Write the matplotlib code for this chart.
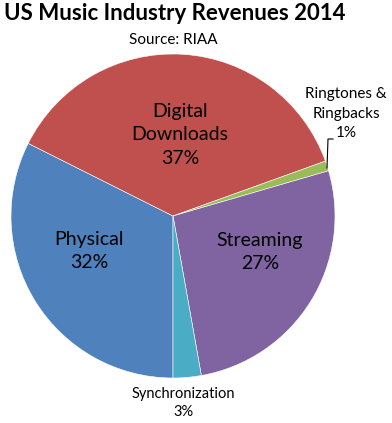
import matplotlib
matplotlib.use('Agg')
import matplotlib.pyplot as plt

# data (share of revenue, %)
categories = ['Physical', 'Digital\nDownloads', 'Ringtones &\nRingbacks', 'Streaming', 'Synchronization']
shares = [32.4, 37.1, 1.0, 26.7, 2.8]
colors = ['#4F81BD', '#C0504D', '#9BBB59', '#8064A2', '#4BACC6']

plt.rcParams['font.family'] = ['Lato', 'DejaVu Sans']

W, H = 392, 423
cx, cy, R = 173, 216, 162  # pie centre / radius in pixels


def px(x, y):
    # pixel position -> data coords (pie radius = 1)
    return (x - cx) / R, (cy - y) / R


fig = plt.figure(figsize=(W / 100, H / 100), dpi=100)
ax = fig.add_axes([0, 0, 1, 1])
ax.pie(shares, colors=colors, startangle=270, counterclock=False,
       wedgeprops=dict(edgecolor='white', linewidth=0.4))
ax.set_xlim(-cx / R, (W - cx) / R)
ax.set_ylim(-(H - cy) / R, cy / R)
ax.set_aspect('auto')
ax.axis('off')

labels = [f'{c}\n{s:.0f}%' for c, s in zip(categories, shares)]

# inside labels
ax.text(*px(89, 251), labels[0], ha='center', va='center', fontsize=14, linespacing=1.45)
ax.text(*px(180, 135), labels[1], ha='center', va='center', fontsize=14, linespacing=1.45)
ax.text(*px(260, 252), labels[3], ha='center', va='center', fontsize=14, linespacing=1.45)

# outside labels
ax.text(*px(346, 114), labels[2], ha='center', va='center', fontsize=11, linespacing=1.5)
ax.text(*px(183, 403), labels[4], ha='center', va='center', fontsize=10.5, linespacing=1.45)
lx, ly = zip(px(333, 139), px(328, 139), px(327, 168))
ax.plot(lx, ly, color='black', lw=0.8)

fig.text(175 / W, 1 - 14 / H, 'US Music Industry Revenues 2014', ha='center', va='center',
         fontsize=16, fontweight='bold')
fig.text(173 / W, 1 - 40 / H, 'Source: RIAA', ha='center', va='center', fontsize=11)

fig.savefig('out.png', dpi=100)
